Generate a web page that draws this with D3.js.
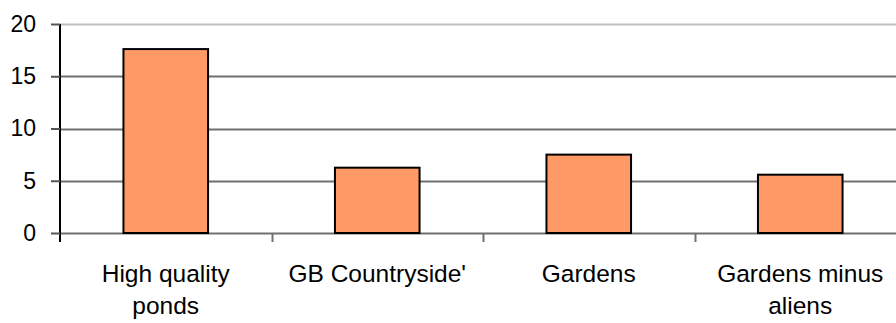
<!DOCTYPE html>
<html>
<head>
<meta charset="utf-8">
<script src="https://cdn.jsdelivr.net/npm/d3@7"></script>
<style>
  body { margin: 0; background: #fff; }
  svg { display: block; }
  text { font-family: "Liberation Sans", Arial, sans-serif; fill: #000; }
</style>
</head>
<body>
<svg id="chart" width="896" height="323"></svg>
<script>
// Category labels (split across lines) and values
const categories = [
  ["High quality", "ponds"],
  ["GB Countryside'"],
  ["Gardens"],
  ["Gardens minus", "aliens"]
];
const values = [17.6, 6.25, 7.5, 5.58];
const yTicks = [0, 5, 10, 15, 20];

const svg = d3.select("#chart");
const plotLeft = 60, plotRight = 906, plotTop = 24, plotBottom = 233;

const x = d3.scaleBand()
  .domain(d3.range(categories.length))
  .range([plotLeft, plotRight])
  .paddingInner(0.6).paddingOuter(0.3);

const y = d3.scaleLinear().domain([0, 20]).range([plotBottom, plotTop]);

// Horizontal gridlines
svg.append("g").selectAll("line")
  .data(yTicks)
  .join("line")
  .attr("x1", plotLeft).attr("x2", plotRight)
  .attr("y1", d => Math.round(y(d)) + 0.5)
  .attr("y2", d => Math.round(y(d)) + 0.5)
  .attr("stroke", d => d === 20 ? "#c0c0c0" : "#707070")
  .attr("stroke-width", 2);

// Bars
svg.append("g").selectAll("rect")
  .data(values)
  .join("rect")
  .attr("x", (d, i) => x(i))
  .attr("width", x.bandwidth())
  .attr("y", d => y(d))
  .attr("height", d => y(0) - y(d))
  .attr("fill", "#ff9966")
  .attr("stroke", "#000")
  .attr("stroke-width", 2);

// Y axis
const yAxis = svg.append("g")
  .attr("transform", `translate(${plotLeft},0)`)
  .call(d3.axisLeft(y).tickValues(yTicks).tickSize(9).tickPadding(15));
yAxis.select(".domain").attr("stroke", "#000").attr("stroke-width", 2)
  .attr("d", `M0,${plotTop}V${plotBottom + 9}`);
yAxis.selectAll(".tick line").attr("stroke", "#555").attr("stroke-width", 2);
yAxis.selectAll(".tick text")
  .attr("font-size", 23)
  .attr("font-family", "Liberation Sans, Arial, sans-serif")
  .attr("fill", "#000");

// Category boundary ticks along the bottom
const step = x.step();
const boundaries = d3.range(categories.length).map(i => plotLeft + i * step);
svg.append("g").selectAll("line")
  .data(boundaries.slice(1))
  .join("line")
  .attr("x1", d => Math.round(d) + 0.5).attr("x2", d => Math.round(d) + 0.5)
  .attr("y1", plotBottom).attr("y2", plotBottom + 9)
  .attr("stroke", "#707070").attr("stroke-width", 2);

// Category labels
const labels = svg.append("g").selectAll("text")
  .data(categories)
  .join("text")
  .attr("text-anchor", "middle")
  .attr("font-size", 24.5)
  .attr("x", (d, i) => x(i) + x.bandwidth() / 2)
  .attr("y", 282);
labels.selectAll("tspan")
  .data(d => d)
  .join("tspan")
  .attr("x", function() { return d3.select(this.parentNode).attr("x"); })
  .attr("dy", (d, i) => i === 0 ? 0 : 32)
  .text(d => d);
</script>
</body>
</html>
